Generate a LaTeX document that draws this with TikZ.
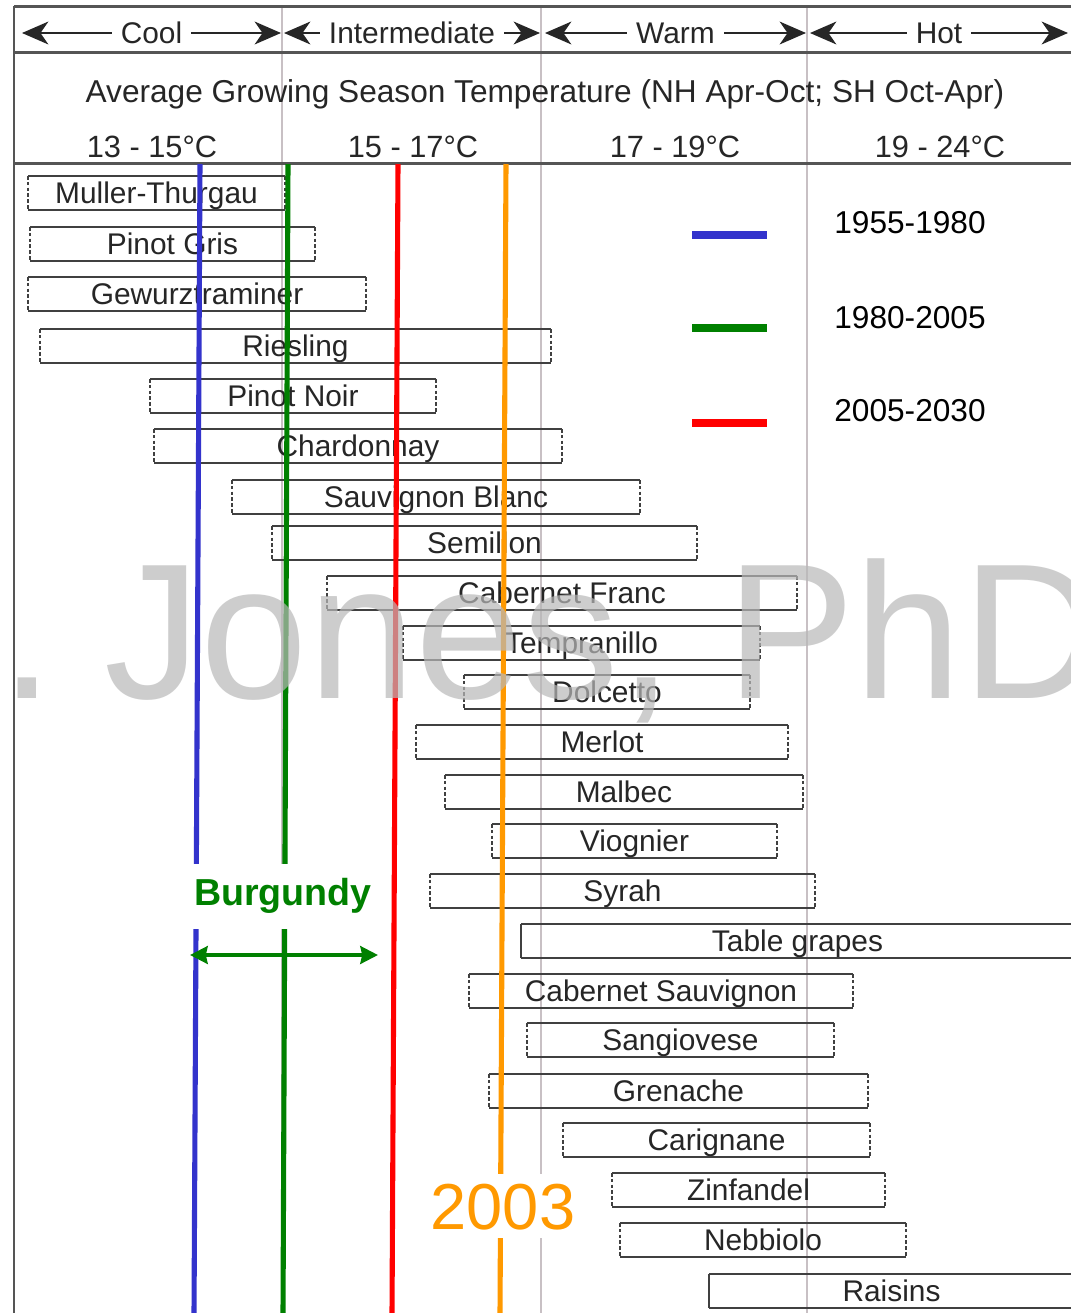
\documentclass[tikz,border=0pt]{standalone}
\usepackage{fontspec}
\setmainfont{Liberation Sans}
\usepackage{tikz}
\usetikzlibrary{arrows.meta,positioning,calc}

\definecolor{eraBlue}{RGB}{51,51,204}
\definecolor{eraGreen}{RGB}{0,128,0}
\definecolor{eraRed}{RGB}{255,0,0}
\definecolor{eraOrange}{RGB}{255,153,0}
\definecolor{frameGray}{RGB}{85,85,85}
\definecolor{zoneGray}{RGB}{200,192,196}
\definecolor{markGray}{RGB}{184,184,184}

% name, left, right, y, label
\newcommand{\grape}[6][barside]{%
  \node[grapebar,minimum width={(#4-#3)*0.02cm},anchor=west] (#2) at (#3,#5) {#6};
  \draw[barline] (#2.north west) -- (#2.north east) (#2.south west) -- (#2.south east);
  \draw[#1] (#2.north west) -- (#2.south west);
  \draw[barside] (#2.north east) -- (#2.south east);
}

\begin{document}
\begin{tikzpicture}[
  x=0.02cm, y=-0.02cm,
  frameline/.style={line width=1.7pt,draw=frameGray},
  zoneline/.style={line width=1pt,draw=zoneGray},
  zonearrow/.style={{Stealth[length=15pt,width=13pt,inset=4.5pt]}-{Stealth[length=15pt,width=13pt,inset=4.5pt]},
    line width=1.1pt,draw=black!85},
  zonelabel/.style={fill=white,inner xsep=5pt,inner ysep=1pt,text height=12.5pt,text depth=0pt,
    font=\fontsize{17}{20}\selectfont,text=black!85},
  headtext/.style={inner sep=0pt,font=\fontsize{17.5}{21}\selectfont,text=black!85},
  grapebar/.style={inner sep=0pt,outer sep=0pt,minimum height=0.68cm,text height=12.2pt,text depth=0pt,
    font=\fontsize{17}{20}\selectfont,text=black!85},
  barline/.style={line width=1.1pt,draw=black!75},
  barside/.style={barline,dash pattern=on 2pt off 1.3pt},
  eraline/.style={line width=2.9pt},
  legendline/.style={line width=4pt},
  legendlabel/.style={inner sep=0pt,font=\fontsize{18}{21}\selectfont,text=black},
  burgbox/.style={fill=white,inner sep=0pt,minimum width=4.1cm,minimum height=1.3cm,
    font=\fontsize{21.4}{24}\bfseries,text=eraGreen},
  burgarrow/.style={{Stealth[length=10pt,width=10pt,inset=1pt]}-{Stealth[length=10pt,width=10pt,inset=1pt]},
    line width=2.3pt,draw=eraGreen},
  yearbox/.style={fill=white,inner sep=0pt,minimum width=3.08cm,minimum height=1.28cm,
    text height=26.5pt,text depth=0pt,font=\fontsize{37}{40}\selectfont,text=eraOrange},
  watermark/.style={inner sep=0pt,text=markGray,text opacity=0.7,font=\fontsize{109.8}{112}\selectfont}
  ]

  \useasboundingbox (0,0) rectangle (1071,1313);
  \clip (0,0) rectangle (1071,1313);

  \fill[white] (0,0) rectangle (1071,1313);

  \draw[zoneline] (282,6) -- (282,1315) (541,6) -- (541,1315) (807,6) -- (807,1315);

  \draw[frameline] (14,6) -- (1075,6) (14,52) -- (1075,52) (14,163) -- (1075,163) (14,6) -- (14,1315);

  \coordinate (coolW)  at (22,33);   \coordinate (coolE)  at (281,33);
  \coordinate (interW) at (284,33);  \coordinate (interE) at (540,33);
  \coordinate (warmW)  at (545,33);  \coordinate (warmE)  at (806,33);
  \coordinate (hotW)   at (810,33);  \coordinate (hotE)   at (1068,33);

  \draw[zonearrow] (coolW)  -- node[zonelabel] (cool)  {Cool}         (coolE);
  \draw[zonearrow] (interW) -- node[zonelabel] (inter) {Intermediate} (interE);
  \draw[zonearrow] (warmW)  -- node[zonelabel] (warm)  {Warm}         (warmE);
  \draw[zonearrow] (hotW)   -- node[zonelabel] (hot)   {Hot}          (hotE);

  \node[headtext,anchor=base,font=\fontsize{18}{21}\selectfont] (season) at (545,102)
    {Average Growing Season Temperature (NH Apr-Oct; SH Oct-Apr)};
  \node[headtext,anchor=base] (rangeA) at (152,157) {13 - 15°C};
  \node[headtext,anchor=base] (rangeB) at (413,157) {15 - 17°C};
  \node[headtext,anchor=base] (rangeC) at (675,157) {17 - 19°C};
  \node[headtext,anchor=base] (rangeD) at (940,157) {19 - 24°C};

  \grape{mueller}{28}{285}{193}{Muller-Thurgau}
  \grape{pinotgris}{30}{315}{244}{Pinot Gris}
  \grape{gewurz}{28}{366}{294}{Gewurztraminer}
  \grape{riesling}{40}{551}{346}{Riesling}
  \grape{pinotnoir}{150}{436}{396}{Pinot Noir}
  \grape{chardonnay}{154}{562}{446}{Chardonnay}
  \grape{sauvblanc}{232}{640}{497}{Sauvignon Blanc}
  \grape{semillon}{272}{697}{543}{Semillon}
  \grape{cabfranc}{327}{797}{593}{Cabernet Franc}
  \grape{tempranillo}{403}{760}{643}{Tempranillo}
  \grape{dolcetto}{464}{750}{692}{Dolcetto}
  \grape{merlot}{416}{788}{742}{Merlot}
  \grape{malbec}{445}{803}{792}{Malbec}
  \grape{viognier}{492}{777}{841}{Viognier}
  \grape{syrah}{430}{815}{891}{Syrah}
  \grape[barline]{tablegrapes}{521}{1074}{941}{Table grapes}
  \grape{cabsauv}{469}{853}{991}{Cabernet Sauvignon}
  \grape{sangiovese}{527}{834}{1040}{Sangiovese}
  \grape{grenache}{489}{868}{1091}{Grenache}
  \grape{carignane}{563}{870}{1140}{Carignane}
  \grape{zinfandel}{612}{885}{1190}{Zinfandel}
  \grape{nebbiolo}{620}{906}{1240}{Nebbiolo}
  \grape[barline]{raisins}{709}{1074}{1291}{Raisins}

  \coordinate (blueTop)   at (200,164);  \coordinate (blueBot)   at (194,1315);
  \coordinate (greenTop)  at (288,164);  \coordinate (greenBot)  at (283,1315);
  \coordinate (redTop)    at (398,164);  \coordinate (redBot)    at (392,1315);
  \coordinate (orangeTop) at (506,164);  \coordinate (orangeBot) at (500,1315);

  \draw[eraline,eraBlue]   (blueTop)   -- (blueBot);
  \draw[eraline,eraGreen]  (greenTop)  -- (greenBot);
  \draw[eraline,eraRed]    (redTop)    -- (redBot);
  \draw[eraline,eraOrange] (orangeTop) -- (orangeBot);

  \coordinate (keyBlueW)  at (692,235);  \coordinate (keyBlueE)  at (767,235);
  \coordinate (keyGreenW) at (692,328);  \coordinate (keyGreenE) at (767,328);
  \coordinate (keyRedW)   at (692,423);  \coordinate (keyRedE)   at (767,423);

  \draw[legendline,eraBlue]  (keyBlueW)  -- (keyBlueE);
  \draw[legendline,eraGreen] (keyGreenW) -- (keyGreenE);
  \draw[legendline,eraRed]   (keyRedW)   -- (keyRedE);

  \node[legendlabel] (keyBlue)  at (910,223) {1955-1980};
  \node[legendlabel] (keyGreen) at (910,318) {1980-2005};
  \node[legendlabel] (keyRed)   at (910,411) {2005-2030};

  \node[burgbox] (burgundy) at (283,896) {Burgundy};
  \coordinate (burgW) at (190,955);
  \coordinate (burgE) at (378,955);
  \draw[burgarrow] (burgW) -- (burgE);

  \node[yearbox] (hot2003) at (503,1206) {2003};

  \node[watermark,anchor=base west] (markDot)  at (0,698)   {.};
  \node[watermark,anchor=base west] (markName) at (104,698) {Jones, PhD};
\end{tikzpicture}
\end{document}
